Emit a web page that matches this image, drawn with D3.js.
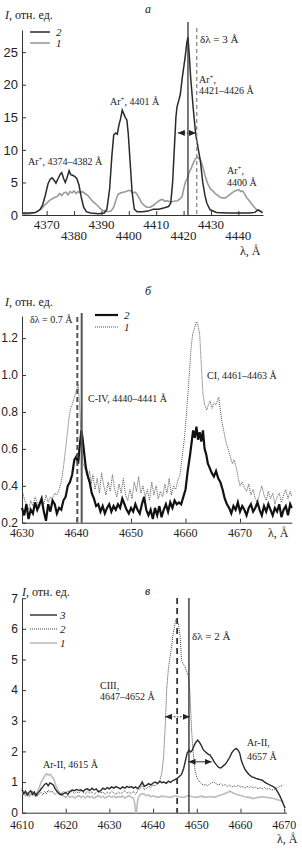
<!DOCTYPE html>
<html>
<head>
<meta charset="utf-8">
<script src="https://cdn.jsdelivr.net/npm/d3@7"></script>
<style>
body{margin:0;background:#fff}
svg{display:block;font-family:"Liberation Serif","DejaVu Serif",serif}
</style>
</head>
<body>
<div id="app"></div>
<script>
// ---- panel a : Ar+ lines, curves 2 (dark) and 1 (gray)
const aTicksX = [4370,4380,4390,4400,4410,4420,4430,4440]
const aTicksY = [0,5,10,15,20,25]
const aDark = [[4361,0.3],[4364,0.3],[4366,0.4],[4367.5,0.8],[4368.5,1.5],[4369.5,3],[4370.5,4.8],[4371.3,5.5],[4372,5.7],[4372.8,5.3],[4373.4,4.9],[4374.2,5.6],[4375,6.3],[4375.5,6.5],[4376.2,5.6],[4376.8,5.0],[4377.5,5.8],[4378.2,6.8],[4378.8,6.2],[4379.5,6.1],[4380.3,5.9],[4381,5.6],[4381.8,4.6],[4382.6,2.8],[4383.5,1.2],[4384.5,0.5],[4386,0.3],[4389,0.2],[4391,0.3],[4392,0.9],[4393,4],[4393.8,9],[4394.5,12.3],[4395.2,12.6],[4395.8,12.4],[4396.4,13.8],[4397,14.8],[4397.6,16.1],[4398.1,15.6],[4398.7,15.0],[4399.3,14.6],[4399.8,12.5],[4400.5,8],[4401.2,3.5],[4402,0.9],[4403,0.5],[4405,0.5],[4407,0.6],[4409,0.9],[4411,0.9],[4413,1.1],[4414.5,1.3],[4415.3,1.8],[4416,5],[4416.6,10],[4417.2,15],[4417.6,16.6],[4418.2,17.5],[4418.8,18.5],[4419.5,21],[4420.6,24.3],[4421.2,26.5],[4421.6,27.3],[4422,25],[4422.6,21],[4423.6,16],[4424.4,12.5],[4425.2,10.5],[4426.1,8.4],[4427,5],[4427.8,3],[4428.5,1.8],[4429.7,0.8],[4432,0.4],[4436,0.3],[4440,0.3],[4444,0.3],[4446,0.4],[4447.2,0.8],[4448,0.6],[4448.8,0.3]]
const aGray = [[4361,0.1],[4364,0.2],[4366,0.4],[4368,0.9],[4369.5,1.6],[4371,2.2],[4372.5,2.6],[4374,2.9],[4374.8,3.3],[4375.5,3.0],[4376.3,3.4],[4377,3.5],[4377.8,3.1],[4378.5,3.6],[4379.3,3.4],[4380,3.7],[4380.8,3.3],[4381.5,3.6],[4382.3,3.4],[4383,3.6],[4384,3.3],[4385,3.0],[4386,2.5],[4387,2.0],[4388.5,1.5],[4389.5,1.0],[4390.5,0.7],[4392,0.5],[4393.5,0.6],[4394.5,1.2],[4395.3,2.3],[4396,3.1],[4397,3.4],[4398,3.5],[4399,3.6],[4400,3.8],[4400.8,3.7],[4401.5,3.4],[4402.3,3.5],[4403,3.2],[4403.8,2.6],[4404.6,1.9],[4405.5,1.5],[4406.5,1.2],[4407.8,1.2],[4409,1.5],[4410.5,2.0],[4411.5,2.3],[4412.3,2.4],[4413.2,2.1],[4414,2.2],[4415,2.0],[4416.5,2.1],[4417.8,2.2],[4418.8,2.5],[4419.5,2.9],[4420.2,4.3],[4420.8,5.2],[4421.5,5.7],[4422,6.5],[4422.8,7.2],[4423.6,8.0],[4424.3,8.6],[4425,8.9],[4425.6,8.7],[4426.3,8.3],[4427,7.4],[4427.9,6.0],[4428.8,4.8],[4429.8,4.0],[4430.7,3.7],[4431.5,3.3],[4432.5,3.0],[4433.5,2.7],[4434.6,2.6],[4435.5,2.7],[4436.5,3.0],[4437.7,3.4],[4438.7,3.7],[4439.5,3.8],[4440.2,3.9],[4440.9,3.6],[4441.6,3.7],[4442.3,3.2],[4443,2.7],[4444,2.2],[4445,1.6],[4446,1.1],[4446.8,0.8],[4447.8,0.6],[4448.8,0.5]]

// ---- panel б : C-IV / CI, curves 2 (thick) and 1 (dotted)
const bTicksX = [4630,4640,4650,4660,4670]
const bTicksY = [0.2,0.4,0.6,0.8,1.0,1.2]
const bDark = [[4630,0.28],[4630.4,0.24],[4630.8,0.3],[4631.2,0.22],[4631.6,0.27],[4632,0.25],[4632.4,0.31],[4632.8,0.27],[4633.2,0.3],[4633.6,0.33],[4634,0.26],[4634.4,0.21],[4634.8,0.3],[4635.2,0.26],[4635.6,0.32],[4636,0.3],[4636.4,0.25],[4636.8,0.28],[4637.2,0.27],[4637.6,0.32],[4638,0.34],[4638.4,0.4],[4638.8,0.42],[4639.2,0.46],[4639.6,0.54],[4640,0.56],[4640.3,0.52],[4640.6,0.62],[4640.9,0.7],[4641.1,0.66],[4641.4,0.58],[4641.7,0.5],[4642,0.46],[4642.4,0.42],[4642.8,0.36],[4643.2,0.33],[4643.6,0.29],[4644,0.3],[4644.4,0.26],[4644.8,0.29],[4645.2,0.25],[4645.6,0.28],[4646,0.3],[4646.4,0.26],[4646.8,0.29],[4647.2,0.27],[4647.6,0.3],[4648,0.28],[4648.4,0.33],[4648.8,0.3],[4649.2,0.27],[4649.6,0.25],[4650,0.28],[4650.4,0.26],[4650.8,0.3],[4651.2,0.27],[4651.6,0.25],[4652,0.3],[4652.4,0.34],[4652.8,0.27],[4653.2,0.24],[4653.6,0.27],[4654,0.22],[4654.4,0.28],[4654.8,0.24],[4655.2,0.29],[4655.6,0.23],[4656,0.27],[4656.4,0.3],[4656.8,0.26],[4657.2,0.31],[4657.6,0.28],[4658,0.32],[4658.4,0.3],[4658.8,0.31],[4659.2,0.3],[4659.6,0.34],[4660,0.38],[4660.4,0.48],[4660.8,0.56],[4661.1,0.63],[4661.4,0.7],[4661.7,0.66],[4662,0.72],[4662.3,0.65],[4662.6,0.69],[4662.9,0.64],[4663.2,0.7],[4663.5,0.6],[4663.8,0.57],[4664.1,0.52],[4664.4,0.5],[4664.8,0.47],[4665.2,0.45],[4665.6,0.48],[4666,0.44],[4666.4,0.42],[4666.8,0.38],[4667.2,0.33],[4667.6,0.3],[4668,0.28],[4668.4,0.25],[4668.8,0.29],[4669.2,0.27],[4669.6,0.31],[4670,0.26],[4670.4,0.29],[4670.8,0.27],[4671.2,0.24],[4671.6,0.28],[4672,0.3],[4672.4,0.26],[4672.8,0.28],[4673.2,0.31],[4673.6,0.27],[4674,0.24],[4674.4,0.29],[4674.8,0.26],[4675.2,0.3],[4675.6,0.27],[4676,0.24],[4676.4,0.28],[4676.8,0.26],[4677.2,0.3],[4677.6,0.23],[4678,0.27],[4678.4,0.29],[4678.8,0.24],[4679.2,0.3],[4679.5,0.28]]
const bDot = [[4630,0.38],[4630.4,0.33],[4630.8,0.3],[4631.2,0.27],[4631.6,0.32],[4632,0.29],[4632.4,0.34],[4632.8,0.31],[4633.2,0.28],[4633.6,0.33],[4634,0.3],[4634.4,0.35],[4634.8,0.31],[4635.2,0.34],[4635.6,0.33],[4636,0.36],[4636.4,0.35],[4636.8,0.38],[4637.2,0.42],[4637.6,0.5],[4638,0.6],[4638.3,0.68],[4638.6,0.76],[4638.9,0.82],[4639.2,0.84],[4639.5,0.87],[4639.8,0.9],[4640.1,0.93],[4640.3,0.95],[4640.6,0.82],[4640.9,0.62],[4641.2,0.52],[4641.5,0.5],[4641.8,0.47],[4642.1,0.44],[4642.4,0.48],[4642.7,0.41],[4643,0.46],[4643.4,0.38],[4643.8,0.44],[4644.2,0.36],[4644.6,0.47],[4645,0.4],[4645.4,0.35],[4645.8,0.42],[4646.2,0.37],[4646.6,0.46],[4647,0.38],[4647.4,0.34],[4647.8,0.41],[4648.2,0.36],[4648.6,0.44],[4649,0.35],[4649.4,0.32],[4649.8,0.38],[4650.2,0.33],[4650.6,0.42],[4651,0.37],[4651.4,0.45],[4651.8,0.36],[4652.2,0.4],[4652.6,0.34],[4653,0.38],[4653.4,0.32],[4653.8,0.42],[4654.2,0.35],[4654.6,0.4],[4655,0.33],[4655.4,0.37],[4655.8,0.34],[4656.2,0.41],[4656.6,0.36],[4657,0.44],[4657.4,0.35],[4657.8,0.4],[4658.2,0.38],[4658.6,0.43],[4659,0.46],[4659.4,0.56],[4659.8,0.66],[4660.2,0.8],[4660.6,0.96],[4661,1.14],[4661.3,1.22],[4661.7,1.26],[4662,1.29],[4662.3,1.27],[4662.6,1.22],[4662.9,1.05],[4663.2,0.9],[4663.5,0.84],[4663.9,0.81],[4664.2,0.84],[4664.5,0.86],[4664.9,0.82],[4665.2,0.85],[4665.6,0.84],[4666.1,0.88],[4666.6,0.76],[4667,0.7],[4667.4,0.64],[4667.8,0.6],[4668.2,0.56],[4668.6,0.52],[4668.9,0.54],[4669.3,0.5],[4669.7,0.44],[4670,0.4],[4670.4,0.42],[4670.8,0.39],[4671.2,0.37],[4671.6,0.41],[4672,0.35],[4672.4,0.38],[4672.8,0.33],[4673.2,0.31],[4673.6,0.36],[4674,0.4],[4674.4,0.35],[4674.8,0.32],[4675.2,0.37],[4675.6,0.33],[4676,0.36],[4676.4,0.3],[4676.8,0.34],[4677.2,0.36],[4677.6,0.31],[4678,0.35],[4678.4,0.38],[4678.8,0.33],[4679.2,0.37],[4679.5,0.34]]

// ---- panel в : CIII / Ar-II, curves 3, 2, 1
const cTicksX = [4610,4620,4630,4640,4650,4660,4670]
const cTicksY = [0,1,2,3,4,5,6,7]
const cDark = [[4610,0.74],[4610.4,0.62],[4610.8,0.7],[4611.2,0.58],[4611.6,0.66],[4612,0.72],[4612.4,0.6],[4612.8,0.68],[4613.2,0.55],[4613.6,0.64],[4614,0.7],[4614.4,0.78],[4614.8,0.85],[4615.2,0.93],[4615.6,0.96],[4616,0.88],[4616.4,0.97],[4616.8,0.94],[4617.2,0.9],[4617.6,0.78],[4618,0.7],[4618.5,0.62],[4619,0.58],[4619.5,0.62],[4620,0.66],[4620.5,0.6],[4621,0.7],[4621.5,0.74],[4622,0.72],[4622.5,0.76],[4623,0.73],[4623.5,0.75],[4624,0.7],[4624.5,0.76],[4625,0.78],[4625.5,0.72],[4626,0.8],[4626.5,0.74],[4627,0.78],[4627.5,0.68],[4628,0.72],[4628.5,0.8],[4629,0.76],[4629.5,0.82],[4630,0.78],[4630.5,0.84],[4631,0.8],[4631.5,0.85],[4632,0.82],[4632.5,0.78],[4633,0.84],[4633.5,0.8],[4634,0.86],[4634.5,0.82],[4635,0.85],[4635.5,0.8],[4636,0.84],[4636.5,0.78],[4637,0.88],[4637.5,1.0],[4638,0.86],[4638.5,0.9],[4639,0.95],[4639.5,0.9],[4640,0.97],[4640.5,1.0],[4641,0.95],[4641.5,1.02],[4642,0.98],[4642.5,1.0],[4643,0.96],[4643.5,1.03],[4644,0.99],[4644.5,1.05],[4645,1.08],[4645.5,1.12],[4646,1.18],[4646.5,1.25],[4647,1.45],[4647.4,1.7],[4647.8,1.95],[4648.2,2.04],[4648.6,1.98],[4649,2.05],[4649.4,2.2],[4649.8,2.3],[4650.2,2.37],[4650.6,2.3],[4651,2.2],[4651.5,2.05],[4652,1.98],[4652.5,1.92],[4653,1.88],[4653.5,1.78],[4654,1.65],[4654.5,1.56],[4655,1.48],[4655.5,1.46],[4656,1.52],[4656.5,1.58],[4657,1.68],[4657.5,1.8],[4658,1.95],[4658.5,2.05],[4659,2.1],[4659.4,2.05],[4659.8,1.95],[4660.2,1.7],[4660.6,1.55],[4661,1.42],[4661.5,1.32],[4662,1.24],[4662.5,1.18],[4663,1.15],[4663.5,1.12],[4664,1.1],[4664.5,1.08],[4665,1.06],[4665.5,1.0],[4666,0.96],[4666.5,0.92],[4667,0.88],[4667.5,0.85],[4668,0.8],[4668.5,0.68],[4669,0.55],[4669.4,0.42],[4669.8,0.28],[4670.2,0.15]]
const cDot = [[4610,0.8],[4610.4,0.68],[4610.8,0.6],[4611.2,0.66],[4611.6,0.56],[4612,0.62],[4612.4,0.7],[4612.8,0.58],[4613.2,0.65],[4613.6,0.55],[4614,0.62],[4614.4,0.66],[4614.8,0.58],[4615.2,0.7],[4615.6,0.62],[4616,0.74],[4616.4,0.66],[4616.8,0.72],[4617.2,0.64],[4617.6,0.6],[4618,0.66],[4618.5,0.6],[4619,0.62],[4619.5,0.7],[4620,0.64],[4620.5,0.72],[4621,0.66],[4621.5,0.7],[4622,0.62],[4622.5,0.68],[4623,0.64],[4623.5,0.72],[4624,0.66],[4624.5,0.62],[4625,0.7],[4625.5,0.64],[4626,0.68],[4626.5,0.6],[4627,0.66],[4627.5,0.72],[4628,0.64],[4628.5,0.68],[4629,0.6],[4629.5,0.66],[4630,0.62],[4630.5,0.7],[4631,0.65],[4631.5,0.6],[4632,0.68],[4632.5,0.62],[4633,0.66],[4633.5,0.72],[4634,0.64],[4634.5,0.68],[4635,0.62],[4635.5,0.7],[4636,0.6],[4636.5,0.72],[4637,0.78],[4637.5,0.92],[4638,0.75],[4638.5,0.8],[4639,0.86],[4639.5,0.82],[4640,0.9],[4640.5,0.88],[4641,0.95],[4641.5,1.02],[4642,1.3],[4642.4,1.82],[4642.8,2.9],[4643.1,4.0],[4643.5,4.7],[4643.9,5.1],[4644.3,5.5],[4644.6,5.85],[4645,6.15],[4645.2,6.3],[4645.5,6.22],[4645.8,6.18],[4646.2,5.74],[4646.5,4.98],[4646.9,4.85],[4647.3,4.76],[4647.7,4.6],[4648.1,4.44],[4648.4,4.0],[4648.6,3.35],[4648.8,2.7],[4649,2.3],[4649.2,1.94],[4649.6,1.39],[4650,1.15],[4650.3,1.07],[4650.8,0.98],[4651.5,0.9],[4652,0.92],[4652.5,0.88],[4653,0.95],[4653.8,1.0],[4654.5,0.94],[4655,0.9],[4655.5,0.95],[4656,0.88],[4656.5,0.92],[4657,0.86],[4657.5,0.9],[4658,0.84],[4658.5,0.88],[4659,0.85],[4659.5,0.9],[4660,0.84],[4660.6,0.85],[4661,0.8],[4661.5,0.86],[4662,0.82],[4662.5,0.86],[4663,0.8],[4663.5,0.84],[4664,0.78],[4664.5,0.82],[4665,0.78],[4665.5,0.82],[4666,0.76],[4666.5,0.8],[4667,0.74],[4667.5,0.75],[4668,0.78],[4668.5,0.82],[4669,0.86],[4669.8,0.9]]
const cGray = [[4610,0.69],[4610.4,0.6],[4610.8,0.55],[4611.2,0.62],[4611.6,0.52],[4612,0.58],[4612.4,0.64],[4612.8,0.55],[4613.2,0.6],[4613.6,0.7],[4614,0.85],[4614.4,1.0],[4614.8,1.1],[4615.2,1.2],[4615.6,1.28],[4616,1.22],[4616.4,1.26],[4616.8,1.18],[4617.2,1.12],[4617.6,0.95],[4618,0.8],[4618.5,0.68],[4619,0.6],[4619.5,0.55],[4620,0.5],[4620.5,0.56],[4621,0.5],[4621.5,0.54],[4622,0.48],[4622.5,0.52],[4623,0.56],[4623.5,0.5],[4624,0.54],[4624.5,0.48],[4625,0.55],[4625.5,0.5],[4626,0.53],[4626.5,0.47],[4627,0.52],[4627.5,0.56],[4628,0.5],[4628.5,0.54],[4629,0.48],[4629.5,0.52],[4630,0.55],[4630.5,0.5],[4631,0.54],[4631.5,0.49],[4632,0.53],[4632.5,0.5],[4633,0.55],[4633.5,0.48],[4634,0.52],[4634.5,0.56],[4635,0.5],[4635.5,0.48],[4635.8,0.3],[4636,0.0],[4636.2,0.0],[4636.4,0.35],[4636.7,0.52],[4637,0.58],[4637.5,0.62],[4638,0.6],[4638.5,0.55],[4639,0.58],[4639.5,0.52],[4640,0.55],[4641,0.5],[4642,0.54],[4643,0.52],[4644,0.5],[4645,0.55],[4646,0.52],[4647,0.5],[4648,0.56],[4649,0.52],[4650,0.5],[4651,0.54],[4652,0.5],[4653,0.53],[4654,0.5],[4655,0.55],[4656,0.6],[4657,0.66],[4657.6,0.7],[4658.3,0.64],[4659,0.6],[4660,0.56],[4661,0.52],[4662,0.5],[4663,0.46],[4664,0.5],[4665,0.52],[4666,0.5],[4667,0.48],[4668,0.45],[4669,0.4],[4669.8,0.36]]

const svg = d3.select("#app").append("svg")
   .attr("width",302)
   .attr("height",849)

svg.append("defs").append("marker")
   .attr("id","head")
   .attr("orient","auto-start-reverse")
   .attr("markerUnits","userSpaceOnUse")
   .attr("markerWidth",7)
   .attr("markerHeight",6)
   .attr("refX",7)
   .attr("refY",3)
   .append("path")
      .attr("d",d3.line()([[0,0],[7,3],[0,6]]))
      .attr("fill","#222")

const make_panel = (o) => {
   let x = d3.scaleLinear().domain(o.xd).range(o.xr)
   let y = d3.scaleLinear().domain(o.yd).range(o.yr)
   let g = svg.append("g")

   g.append("g")
      .attr("transform",`translate(0,${o.yr[0]})`)
      .call(d3.axisBottom(x).tickValues(o.xt).tickSize(-4).tickSizeOuter(0).tickFormat(""))
   g.append("g")
      .attr("transform",`translate(${o.xr[0]},0)`)
      .call(d3.axisLeft(y).tickValues(o.yt).tickSize(-4).tickSizeOuter(0).tickPadding(4).tickFormat(o.yf))
      .selectAll("text").attr("font-size",o.fs).attr("font-family","inherit").attr("fill","#222")
   g.selectAll(".domain,.tick line").attr("stroke","#333")

   g.append("g").selectAll("text")
      .data(o.xt)
      .join("text")
      .attr("x",d=>x(d))
      .attr("y",(d,i)=>o.xly(i))
      .attr("text-anchor","middle")
      .attr("font-size",o.fs)
      .attr("fill","#222")
      .text(d=>d)
   return {x,y,g}
}

const line_for = (p) => d3.line().x(d=>p.x(d[0])).y(d=>p.y(d[1]))

const add_text = (g,x,y,str,size,italic) => {
   let t = g.append("text").attr("x",x).attr("y",y).attr("font-size",size).attr("fill","#222")
   if (italic) t.attr("font-style","italic")
   t.text(str)
   return t
}

const ar_plus = (g,x,y,rest) => {
   let t = g.append("text").attr("x",x).attr("y",y).attr("font-size",10).attr("fill","#222")
   t.append("tspan").text("Ar")
   t.append("tspan").attr("dy",-4).attr("font-size",7).text("+")
   t.append("tspan").attr("dy",4).text(rest)
}

const ylab = (g,x,y) => {
   let t = g.append("text").attr("x",x).attr("y",y).attr("font-size",12).attr("fill","#222")
   t.append("tspan").attr("font-style","italic").text("I")
   t.append("tspan").text(", отн. ед.")
}

const vline = (p,lam,top,style) => {
   p.g.append("line")
      .attr("x1",p.x(lam)).attr("x2",p.x(lam))
      .attr("y1",top).attr("y2",p.y.range()[0])
      .attr("stroke",style.c).attr("stroke-width",style.w)
      .attr("stroke-dasharray",style.dash || null)
}

const darrow = (p,l1,l2,v,dash) => {
   p.g.append("line")
      .attr("x1",p.x(l1)).attr("x2",p.x(l2))
      .attr("y1",p.y(v)).attr("y2",p.y(v))
      .attr("stroke","#222").attr("stroke-width",1)
      .attr("stroke-dasharray",dash || null)
      .attr("marker-start","url(#head)")
      .attr("marker-end","url(#head)")
}

// ================= panel a
let pa = make_panel({xd:[4361,4449],xr:[22,263],yd:[0,28.4],yr:[215,30],
   xt:aTicksX,yt:aTicksY,fs:13,yf:d=>d,xly:i=>i%2?240:229})

pa.g.append("path").datum(aGray).attr("d",line_for(pa))
   .attr("fill","none").attr("stroke","#9a9a9a").attr("stroke-width",1.6)
pa.g.append("path").datum(aDark).attr("d",line_for(pa))
   .attr("fill","none").attr("stroke","#2a2a2a").attr("stroke-width",1.5)

vline(pa,4421.6,22,{c:"#333",w:1.3})
vline(pa,4424.8,28,{c:"#888",w:1.3,dash:"4,3"})
darrow(pa,4417.9,4424.5,12.6,"1.5,1.5")

ylab(pa.g,5,19)
add_text(pa.g,145,13,"а",12,true)
pa.g.append("line").attr("x1",30).attr("x2",50).attr("y1",32).attr("y2",32).attr("stroke","#2a2a2a").attr("stroke-width",1.5)
pa.g.append("line").attr("x1",30).attr("x2",50).attr("y1",43).attr("y2",43).attr("stroke","#9a9a9a").attr("stroke-width",1.6)
add_text(pa.g,56,36,"2",11,true)
add_text(pa.g,56,47,"1",11,true)
ar_plus(pa.g,110,105,", 4401 Å")
add_text(pa.g,200,43,"δλ = 3 Å",11)
ar_plus(pa.g,199,83,",")
add_text(pa.g,199,94,"4421–4426 Å",10)
ar_plus(pa.g,28,165,", 4374–4382 Å")
ar_plus(pa.g,227,174,",")
add_text(pa.g,227,186,"4400 Å",10)
add_text(pa.g,240,255,"λ, Å",12)

// ================= panel б
let pb = make_panel({xd:[4630,4679.5],xr:[22,291.8],yd:[0.2,1.32],yr:[522.7,316],
   xt:bTicksX,yt:bTicksY,fs:12,yf:d3.format(".1f"),xly:()=>537})

pb.g.append("path").datum(bDot).attr("d",line_for(pb))
   .attr("fill","none").attr("stroke","#555").attr("stroke-width",1).attr("stroke-dasharray","1,1")
pb.g.append("path").datum(bDark).attr("d",line_for(pb))
   .attr("fill","none").attr("stroke","#111").attr("stroke-width",2.2)

vline(pb,4640.95,313,{c:"#555",w:2})
vline(pb,4640.15,317,{c:"#555",w:2,dash:"5,3"})

add_text(pb.g,145,295,"б",12,true)
ylab(pb.g,5,306)
pb.g.append("line").attr("x1",95).attr("x2",118).attr("y1",315).attr("y2",315).attr("stroke","#111").attr("stroke-width",2.2)
pb.g.append("line").attr("x1",95).attr("x2",118).attr("y1",327).attr("y2",327).attr("stroke","#555").attr("stroke-width",1).attr("stroke-dasharray","1,1")
add_text(pb.g,124,319,"2",11,true)
add_text(pb.g,124,331,"1",11,true)
add_text(pb.g,30,323,"δλ = 0.7 Å",10)
add_text(pb.g,88,402,"C-IV, 4440–4441 Å",10)
add_text(pb.g,207,379,"CI, 4461–4463 Å",10)
add_text(pb.g,268,537,"λ, Å",12)

// ================= panel в
let pc = make_panel({xd:[4610,4670.5],xr:[22,286.4],yd:[0,7],yr:[812.7,598.2],
   xt:cTicksX,yt:cTicksY,fs:12,yf:d=>d,xly:()=>829})

pc.g.append("path").datum(cGray).attr("d",line_for(pc))
   .attr("fill","none").attr("stroke","#bdbdbd").attr("stroke-width",1.6)
pc.g.append("path").datum(cDot).attr("d",line_for(pc))
   .attr("fill","none").attr("stroke","#444").attr("stroke-width",1).attr("stroke-dasharray","1,1")
pc.g.append("path").datum(cDark).attr("d",line_for(pc))
   .attr("fill","none").attr("stroke","#2a2a2a").attr("stroke-width",1.4)

vline(pc,4645.5,598,{c:"#333",w:1.8,dash:"6,4"})
vline(pc,4648.2,598,{c:"#333",w:1.4})
darrow(pc,4642.7,4648.4,3.13,"1.5,1.5")
darrow(pc,4648.1,4653.4,1.66)

add_text(pc.g,145,595,"в",12,true)
ylab(pc.g,22,596)
pc.g.append("line").attr("x1",30).attr("x2",57).attr("y1",615).attr("y2",615).attr("stroke","#2a2a2a").attr("stroke-width",1.4)
pc.g.append("line").attr("x1",30).attr("x2",57).attr("y1",629).attr("y2",629).attr("stroke","#444").attr("stroke-width",1).attr("stroke-dasharray","1,1")
pc.g.append("line").attr("x1",30).attr("x2",57).attr("y1",643).attr("y2",643).attr("stroke","#bdbdbd").attr("stroke-width",1.6)
add_text(pc.g,60,619,"3",11,true)
add_text(pc.g,60,633,"2",11,true)
add_text(pc.g,60,647,"1",11,true)
add_text(pc.g,100,689,"CIII,",10)
add_text(pc.g,100,700,"4647–4652 Å",10)
add_text(pc.g,192,640,"δλ = 2 Å",11)
add_text(pc.g,43,768,"Ar-II, 4615 Å",10)
add_text(pc.g,247,746,"Ar-II,",10)
add_text(pc.g,247,760,"4657 Å",10)
add_text(pc.g,277,843,"λ, Å",12)
</script>
</body>
</html>
